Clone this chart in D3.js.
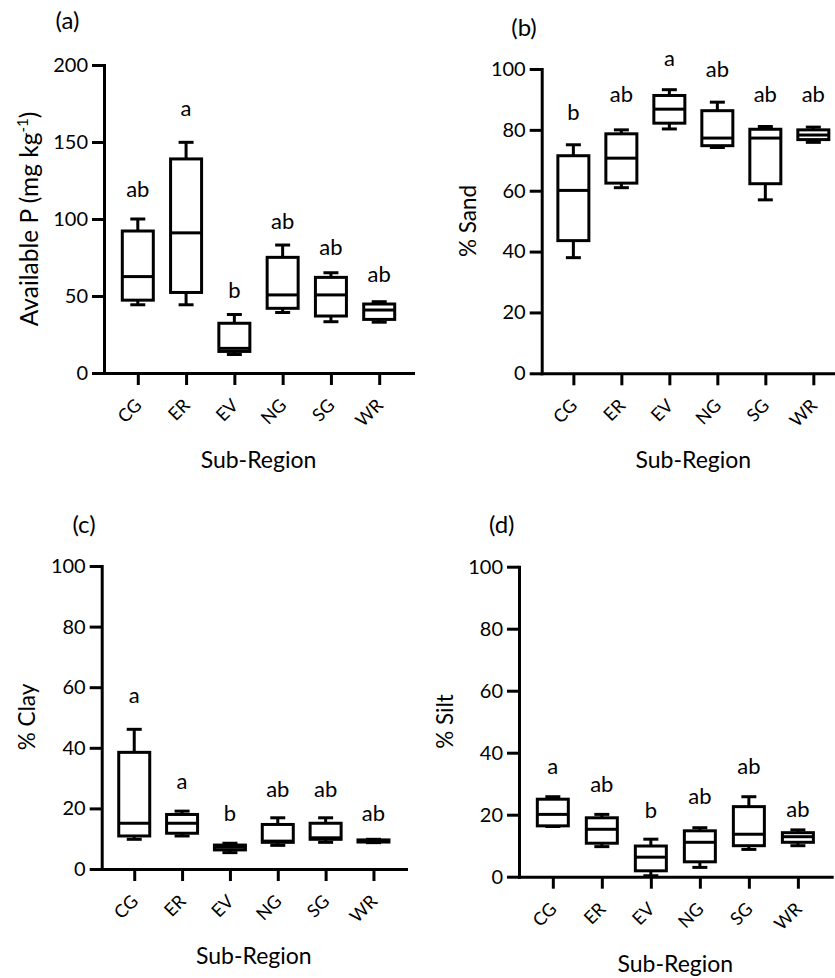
<!DOCTYPE html>
<html>
<head>
<meta charset="utf-8">
<script src="https://cdn.jsdelivr.net/npm/d3@7"></script>
<style>
  html, body { margin: 0; padding: 0; background: #fff; }
  svg { display: block; }
  text { font-family: Lato, "Open Sans", sans-serif; fill: #000; }
</style>
</head>
<body>
<svg id="chart" width="835" height="978"></svg>
<script>
// ---------- DATA ----------
const categories = ["CG", "ER", "EV", "NG", "SG", "WR"];

// (a) Available P (mg kg-1)
const pMin = [44.3, 44.3, 12, 39.3, 33.3, 33];
const pQ1  = [47.3, 52.3, 14, 42, 37, 34.8];
const pMed = [62.6, 91, 16, 50.7, 50.7, 40.9];
const pQ3  = [92.2, 139, 32.3, 75.1, 62.1, 44.8];
const pMax = [100, 149.8, 38, 83.1, 65.1, 46.3];
const pLetters = ["ab", "a", "b", "ab", "ab", "ab"];
const pLetterAt = [114.5, 167, 48.5, 93.3, 76.6, 59.3];

// (b) % Sand
const sandMin = [38, 61, 80.3, 74.2, 57, 75.9];
const sandQ1  = [43.6, 62.5, 82.2, 74.8, 62.3, 76.8];
const sandMed = [60.1, 70.7, 86.8, 77.3, 77.3, 78.3];
const sandQ3  = [71.5, 78.7, 91.3, 86.3, 80.2, 80];
const sandMax = [75.1, 80, 93.2, 89.1, 81.1, 80.9];
const sandLetters = ["b", "ab", "a", "ab", "ab", "ab"];
const sandLetterAt = [83.1, 89.3, 100.9, 97.4, 89.3, 89.3];

// (c) % Clay
const clayMin = [9.8, 10.9, 5.4, 7.8, 8.8, 8.7];
const clayQ1  = [10.9, 11.8, 6.3, 8.8, 9.8, 8.9];
const clayMed = [15.1, 15.1, 7.2, 9.2, 10.3, 9.3];
const clayQ3  = [38.5, 18, 7.9, 14.7, 15.1, 9.6];
const clayMax = [46.1, 19.1, 8.5, 16.9, 16.9, 9.8];
const clayLetters = ["a", "a", "b", "ab", "ab", "ab"];
const clayLetterAt = [54.7, 26.4, 15.8, 23.9, 23.9, 15.8];

// (d) % Silt
const siltMin = [16.2, 9.7, 0.3, 3, 8.8, 10];
const siltQ1  = [16.4, 10.8, 1.9, 4.8, 10, 11.1];
const siltMed = [20.1, 15.3, 6.3, 11.1, 13.7, 12.9];
const siltQ3  = [25, 19, 9.9, 14.8, 22.6, 14.2];
const siltMax = [25.8, 20.1, 12.1, 15.8, 25.8, 15.1];
const siltLetters = ["a", "ab", "b", "ab", "ab", "ab"];
const siltLetterAt = [33, 27.2, 19, 23.4, 33, 19.4];

const pTicks = [0, 50, 100, 150, 200];
const pctTicks = [0, 20, 40, 60, 80, 100];

const xTitle = "Sub-Region";

// ---------- LAYOUT ----------
const panels = [
  { tag: "(a)", min: pMin, q1: pQ1, med: pMed, q3: pQ3, max: pMax, letters: pLetters, letterAt: pLetterAt,
    yDomain: [0, 200], yTicks: pTicks, yTitle: "P", yTitleFS: 24.5,
    ax: 104, axEnd: 413, yTop: 65, yBot: 373, pad: 0.7,
    tagX: 67.5, tagY: 29, yTitleX: 38, yTitleY: 219 },
  { tag: "(b)", min: sandMin, q1: sandQ1, med: sandMed, q3: sandQ3, max: sandMax, letters: sandLetters, letterAt: sandLetterAt,
    yDomain: [0, 100], yTicks: pctTicks, yTitle: "% Sand", yTitleFS: 22.5,
    ax: 541.7, axEnd: 845, yTop: 69, yBot: 373.3, pad: 0.66,
    tagX: 524, tagY: 36, yTitleX: 476, yTitleY: 221 },
  { tag: "(c)", min: clayMin, q1: clayQ1, med: clayMed, q3: clayQ3, max: clayMax, letters: clayLetters, letterAt: clayLetterAt,
    yDomain: [0, 100], yTicks: pctTicks, yTitle: "% Clay", yTitleFS: 22.5,
    ax: 101.7, axEnd: 406, yTop: 566, yBot: 869, pad: 0.68,
    tagX: 84, tagY: 533, yTitleX: 35, yTitleY: 717 },
  { tag: "(d)", min: siltMin, q1: siltQ1, med: siltMed, q3: siltQ3, max: siltMax, letters: siltLetters, letterAt: siltLetterAt,
    yDomain: [0, 100], yTicks: pctTicks, yTitle: "% Silt", yTitleFS: 22.5,
    ax: 519, axEnd: 831.7, yTop: 566.7, yBot: 876.7, pad: 0.69,
    tagX: 501.7, tagY: 533, yTitleX: 453, yTitleY: 721.5 }
];

const svg = d3.select("#chart");
const FS_TICK = 20;
const FS_CAT = 18;
const FS_SIG = 22;
const FS_XT = 23;
const FS_TAG = 24;
const SW = 3;
const boxW = 31;
const capW = 15;

panels.forEach(p => {
  const g = svg.append("g");
  const x = d3.scalePoint().domain(categories).range([p.ax, p.axEnd]).padding(p.pad);
  const y = d3.scaleLinear().domain(p.yDomain).range([p.yBot, p.yTop]);

  // Y axis
  const yAxis = g.append("g").attr("transform", `translate(${p.ax},0)`)
    .call(d3.axisLeft(y).tickValues(p.yTicks).tickSize(12).tickSizeOuter(0).tickPadding(4).tickFormat(d3.format("d")));
  // X axis
  const xAxis = g.append("g").attr("transform", `translate(0,${p.yBot})`)
    .call(d3.axisBottom(x).tickSize(12).tickSizeOuter(0).tickFormat(""));

  [yAxis, xAxis].forEach(a => {
    a.select(".domain").attr("stroke", "#000").attr("stroke-width", SW).attr("stroke-linecap", "square");
    a.selectAll(".tick line").attr("stroke", "#000").attr("stroke-width", SW);
  });
  yAxis.selectAll(".tick text").style("font-size", FS_TICK + "px").attr("fill", "#000");

  // rotated category labels
  g.selectAll("text.cat").data(categories).join("text")
    .attr("class", "cat")
    .attr("text-anchor", "end")
    .style("font-size", FS_CAT + "px")
    .attr("transform", d => `translate(${x(d) + 5},${p.yBot + 33.5}) rotate(-45)`)
    .text(d => d);

  // boxes
  const idx = d3.range(categories.length);
  const bx = g.append("g").attr("fill", "none").attr("stroke", "#000").attr("stroke-width", SW);
  idx.forEach(i => {
    const cx = x(categories[i]);
    bx.append("line").attr("x1", cx).attr("x2", cx).attr("y1", y(p.max[i])).attr("y2", y(p.q3[i]));
    bx.append("line").attr("x1", cx).attr("x2", cx).attr("y1", y(p.min[i])).attr("y2", y(p.q1[i]));
    bx.append("line").attr("x1", cx - capW / 2).attr("x2", cx + capW / 2).attr("y1", y(p.max[i])).attr("y2", y(p.max[i]));
    bx.append("line").attr("x1", cx - capW / 2).attr("x2", cx + capW / 2).attr("y1", y(p.min[i])).attr("y2", y(p.min[i]));
    bx.append("rect").attr("x", cx - boxW / 2).attr("width", boxW)
      .attr("y", y(p.q3[i])).attr("height", Math.max(0.01, y(p.q1[i]) - y(p.q3[i])))
      .attr("fill", "#fff");
    bx.append("line").attr("x1", cx - boxW / 2).attr("x2", cx + boxW / 2).attr("y1", y(p.med[i])).attr("y2", y(p.med[i]));
  });

  // significance letters
  g.selectAll("text.sig").data(idx).join("text")
    .attr("class", "sig")
    .attr("text-anchor", "middle")
    .style("font-size", FS_SIG + "px")
    .attr("x", i => x(categories[i]))
    .attr("y", i => y(p.letterAt[i]))
    .text(i => p.letters[i]);

  // panel tag
  g.append("text").attr("x", p.tagX).attr("y", p.tagY).attr("text-anchor", "middle")
    .style("font-size", FS_TAG + "px").text(p.tag);

  // y title
  const yt = g.append("text").attr("text-anchor", "middle").style("font-size", p.yTitleFS + "px")
    .attr("transform", `translate(${p.yTitleX},${p.yTitleY}) rotate(-90)`);
  if (p.yTitle === "P") {
    yt.append("tspan").text("Available P (mg kg");
    yt.append("tspan").style("font-size", "15px").attr("dy", -10).text("-1");
    yt.append("tspan").attr("dy", 10).text(")");
  } else {
    yt.text(p.yTitle);
  }

  // x title
  const cxMid = (x(categories[0]) + x(categories[categories.length - 1])) / 2;
  g.append("text").attr("x", cxMid).attr("y", p.yBot + 95).attr("text-anchor", "middle")
    .style("font-size", FS_XT + "px").text(xTitle);
});
</script>
</body>
</html>
